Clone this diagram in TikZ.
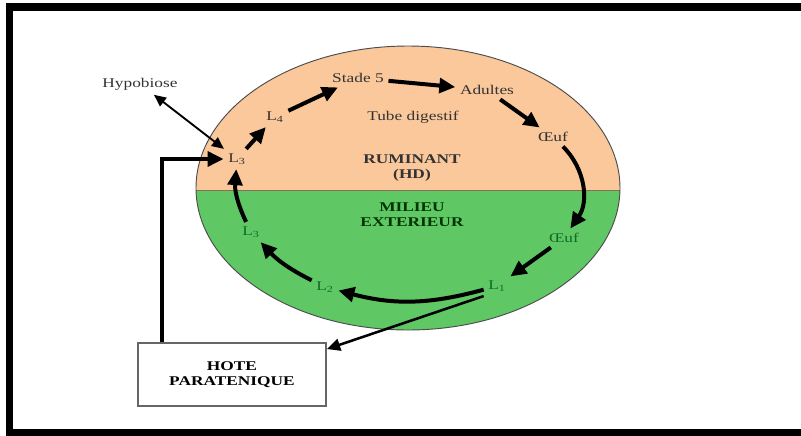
\documentclass[tikz,border=0pt]{standalone}
\usepackage{fontspec}
\setmainfont{Liberation Serif}[FakeStretch=1.3]
\usetikzlibrary{arrows.meta,calc}

\definecolor{peau}{RGB}{250,200,155}
\definecolor{herbe}{RGB}{95,200,100}
\definecolor{vertfonce}{RGB}{20,105,40}

\begin{document}
\begin{tikzpicture}[x=0.75pt, y=-0.75pt,
    every node/.style={font=\fontsize{10}{11.5}\selectfont},
    hautlbl/.style={text=black!80},
    baslbl/.style={text=vertfonce},
    titre/.style={font=\fontsize{10}{11.5}\selectfont\bfseries, align=center},
    hotebox/.style={draw=black!60, line width=1.3pt, fill=white,
        minimum width=141pt, minimum height=47pt, align=center,
        font=\fontsize{10}{11.5}\selectfont\bfseries},
    bigarrow/.style={line width=3pt, -{Triangle[length=12pt,width=11pt]}},
    midarrow/.style={line width=1.9pt, -{Triangle[length=10pt,width=9pt]}},
    thinarrow/.style={line width=1.4pt,
        {Triangle[length=9pt,width=8pt]}-{Triangle[length=9pt,width=8pt]}}]

  \useasboundingbox (0,0) rectangle (801,436);
  \draw[line width=5.5pt] (9.5,7) rectangle (812,433);

  % host / outside halves
  \begin{scope}
    \clip (408,188) ellipse [x radius=212, y radius=142];
    \fill[peau] (190,40) rectangle (630,190);
    \fill[herbe] (190,190) rectangle (630,335);
    \draw[peau!55!black, line width=0.5pt] (190,190) -- (630,190);
  \end{scope}
  \draw[black!70, line width=0.7pt] (408,188) ellipse [x radius=212, y radius=142];

  % labels
  \node[hautlbl] (hyp) at (140,84) {Hypobiose};
  \node[hautlbl] (l3t) at (237,159) {L\textsubscript{3}};
  \node[hautlbl] (l4) at (275,117) {L\textsubscript{4}};
  \node[hautlbl] (st5) at (358,78) {Stade 5};
  \node[hautlbl] (adu) at (487,90) {Adultes};
  \node[hautlbl] (tube) at (413,117) {Tube digestif};
  \node[hautlbl] (oeufh) at (553,137) {Œuf};
  \node[titre, text=black!80] (rum) at (412,168) {RUMINANT\\(HD)};
  \node[titre, text=green!20!black] (mil) at (412,215) {MILIEU\\EXTERIEUR};
  \node[baslbl] (oeufl) at (564,238) {Œuf};
  \node[baslbl] (l1) at (497,286) {L\textsubscript{1}};
  \node[baslbl] (l2) at (325,287) {L\textsubscript{2}};
  \node[baslbl] (l3b) at (251,232) {L\textsubscript{3}};
  \node[hotebox] (hote) at (232,374.5) {HOTE\\PARATENIQUE};

  % cycle
  \draw[thinarrow] (hyp) -- (l3t);
  \draw[bigarrow] (l3t) -- (l4);
  \draw[bigarrow] (l4) -- (st5);
  \draw[bigarrow] (st5) -- (adu);
  \draw[bigarrow] (adu) -- (oeufh);
  \draw[bigarrow] (oeufh) to[bend left=40] (oeufl);
  \draw[bigarrow] (oeufl) -- (l1);
  \draw[bigarrow] (l1) to[bend left=15] (l2);
  \draw[bigarrow] (l2) to[bend left=10] (l3b);
  \draw[bigarrow] (l3b) to[bend left=15] (l3t);
  \draw[midarrow] (l1.south west) -- (hote.15);
  \draw[bigarrow] ($(hote.north west)+(25,0)$) |- (l3t);
\end{tikzpicture}
\end{document}
